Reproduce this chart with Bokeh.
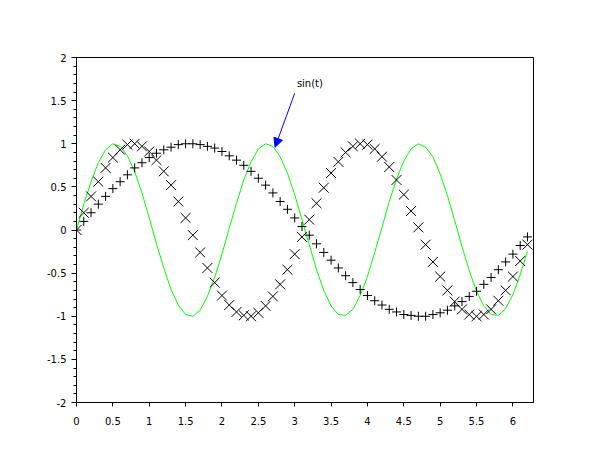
from bokeh.plotting import figure
from bokeh.models import (Range1d, SingleIntervalTicker, CustomJSTickFormatter,
                          Arrow, NormalHead, Label, ColumnDataSource)
from bokeh.embed import file_html
from bokeh.resources import INLINE

# sample points t = 0 : 0.1 : 6.2
t = [0.0, 0.1, 0.2, 0.3, 0.4, 0.5, 0.6, 0.7, 0.8, 0.9,
     1.0, 1.1, 1.2, 1.3, 1.4, 1.5, 1.6, 1.7, 1.8, 1.9,
     2.0, 2.1, 2.2, 2.3, 2.4, 2.5, 2.6, 2.7, 2.8, 2.9,
     3.0, 3.1, 3.2, 3.3, 3.4, 3.5, 3.6, 3.7, 3.8, 3.9,
     4.0, 4.1, 4.2, 4.3, 4.4, 4.5, 4.6, 4.7, 4.8, 4.9,
     5.0, 5.1, 5.2, 5.3, 5.4, 5.5, 5.6, 5.7, 5.8, 5.9,
     6.0, 6.1, 6.2]

# '+' series
plus_vals = [0.00, 0.10, 0.20, 0.30, 0.39, 0.48, 0.56, 0.64, 0.72, 0.78,
             0.84, 0.89, 0.93, 0.96, 0.99, 1.00, 1.00, 0.99, 0.97, 0.95,
             0.91, 0.86, 0.81, 0.75, 0.68, 0.60, 0.52, 0.43, 0.33, 0.24,
             0.14, 0.04, -0.06, -0.16, -0.26, -0.35, -0.44, -0.53, -0.61, -0.69,
             -0.76, -0.82, -0.87, -0.92, -0.95, -0.98, -0.99, -1.00, -1.00, -0.98,
             -0.96, -0.93, -0.88, -0.83, -0.77, -0.71, -0.63, -0.55, -0.46, -0.37,
             -0.28, -0.18, -0.08]

# 'x' series
x_vals = [0.00, 0.20, 0.39, 0.56, 0.72, 0.84, 0.93, 0.99, 1.00, 0.97,
          0.91, 0.81, 0.68, 0.52, 0.33, 0.14, -0.06, -0.26, -0.44, -0.61,
          -0.76, -0.87, -0.95, -0.99, -1.00, -0.96, -0.88, -0.77, -0.63, -0.46,
          -0.28, -0.08, 0.12, 0.31, 0.49, 0.66, 0.79, 0.90, 0.97, 1.00,
          0.99, 0.94, 0.85, 0.73, 0.58, 0.41, 0.22, 0.03, -0.17, -0.37,
          -0.54, -0.70, -0.83, -0.92, -0.98, -1.00, -0.98, -0.92, -0.82, -0.70,
          -0.54, -0.36, -0.17]

# green line series
line_vals = [0.00, 0.30, 0.56, 0.78, 0.93, 1.00, 0.97, 0.86, 0.68, 0.43,
             0.14, -0.16, -0.44, -0.69, -0.87, -0.98, -1.00, -0.93, -0.77, -0.55,
             -0.28, 0.02, 0.31, 0.58, 0.79, 0.94, 1.00, 0.97, 0.85, 0.66,
             0.41, 0.12, -0.17, -0.46, -0.70, -0.88, -0.98, -0.99, -0.92, -0.76,
             -0.54, -0.26, 0.03, 0.33, 0.59, 0.80, 0.94, 1.00, 0.96, 0.85,
             0.65, 0.40, 0.11, -0.19, -0.47, -0.71, -0.88, -0.98, -0.99, -0.91,
             -0.75, -0.52, -0.25]

annot_text = "sin(t)"
annot_xy = (3.03, 1.70)
arrow_start = (3.0, 1.585)
arrow_end = (2.73, 0.96)

src = ColumnDataSource(dict(t=t, a=plus_vals, b=x_vals, c=line_vals))

p = figure(width=602, height=452, frame_width=457, frame_height=345,
           output_backend="svg", toolbar_location=None,
           x_range=Range1d(0, 6.2832), y_range=Range1d(-2, 2),
           min_border_left=76, min_border_top=57, min_border_right=69,
           min_border_bottom=50)
p.background_fill_color = "white"
p.border_fill_color = "white"
p.outline_line_color = "black"
p.outline_line_width = 1
p.xgrid.visible = False
p.ygrid.visible = False

fmt = CustomJSTickFormatter(code="return String(Math.round(tick*100)/100);")
p.xaxis.ticker = SingleIntervalTicker(interval=0.5, num_minor_ticks=0)
p.yaxis.ticker = SingleIntervalTicker(interval=0.5, num_minor_ticks=5)
for ax in (p.xaxis[0], p.yaxis[0]):
    ax.formatter = fmt
    ax.axis_line_color = "black"
    ax.major_tick_in = 0
    ax.minor_tick_in = 0
    ax.major_tick_line_color = "black"
    ax.minor_tick_line_color = "black"
    ax.major_label_text_font = "DejaVu Sans"
    ax.major_label_text_font_size = "10px"
    ax.major_label_text_color = "black"
p.xaxis.major_tick_out = 4
p.xaxis.major_label_standoff = 10
p.xaxis.minor_tick_line_color = None
p.yaxis.major_tick_out = 5
p.yaxis.minor_tick_out = 3
p.yaxis.major_label_standoff = 5

p.line("t", "c", source=src, line_color="#00ff00", line_width=1)
p.scatter("t", "a", source=src, marker="cross", size=9, line_color="black", line_width=1)
p.scatter("t", "b", source=src, marker="x", size=14, line_color="black", line_width=1)

p.add_layout(Arrow(end=NormalHead(size=9, fill_color="blue", line_color="blue", line_width=1),
                   x_start=arrow_start[0], y_start=arrow_start[1],
                   x_end=arrow_end[0], y_end=arrow_end[1],
                   line_color="blue", line_width=1))
p.add_layout(Label(x=annot_xy[0], y=annot_xy[1], text=annot_text,
                   text_font="DejaVu Sans", text_font_size="10px",
                   text_color="black", text_baseline="alphabetic"))

open("out.html", "w").write(file_html(p, INLINE))
